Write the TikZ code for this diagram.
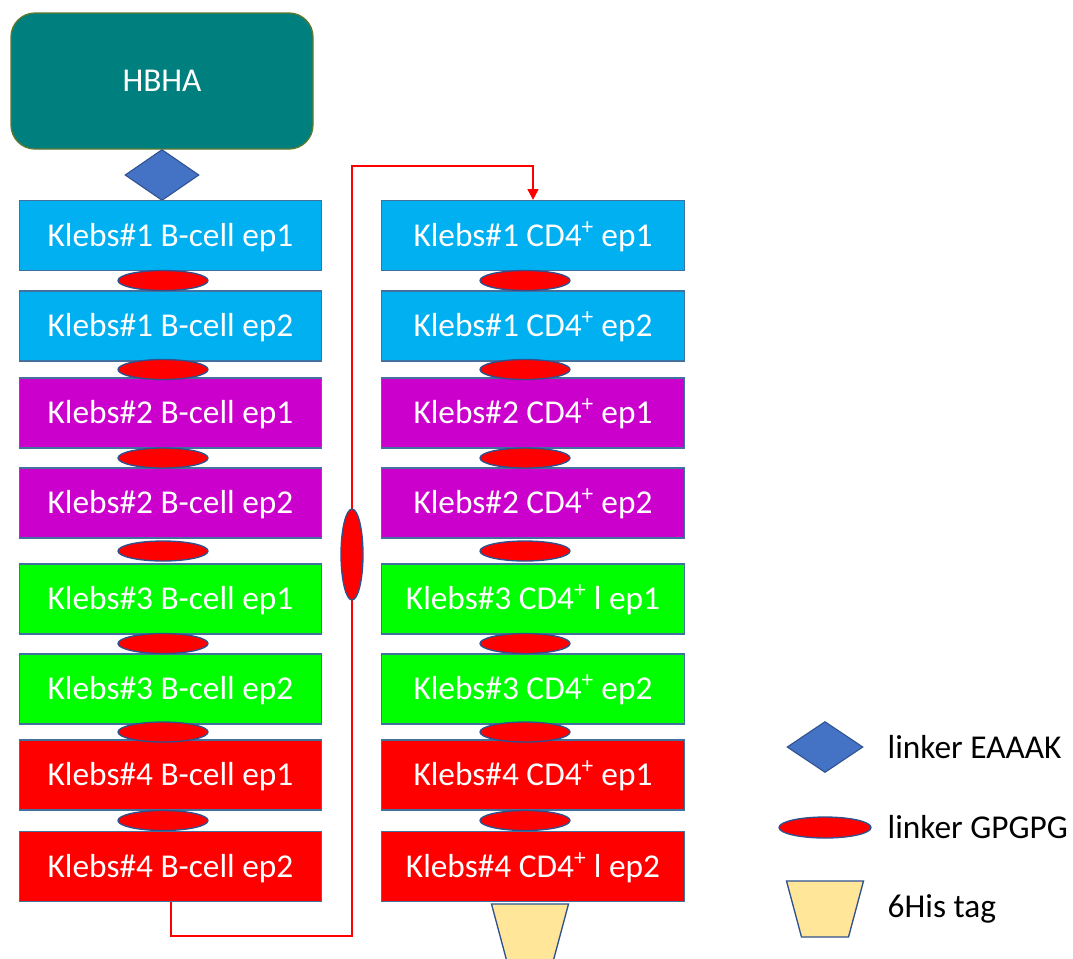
\documentclass[tikz,border=0pt]{standalone}
\usepackage{fontspec}
\setmainfont{Carlito}
\usetikzlibrary{shapes.geometric,arrows.meta}
\definecolor{hbhafill}{HTML}{007F7F}
\definecolor{hbhaline}{HTML}{5F7A2E}
\definecolor{cblue}{HTML}{00B0F0}
\definecolor{cpurple}{HTML}{CC00CC}
\definecolor{cgreen}{HTML}{00FF00}
\definecolor{cred}{HTML}{FF0000}
\definecolor{edge}{HTML}{41719C}
\definecolor{dedge}{HTML}{2F528F}
\definecolor{dfill}{HTML}{4472C4}
\definecolor{tagfill}{HTML}{FFE699}
\tikzset{
  txt/.style={font=\fontsize{25}{30}\selectfont},
  epbox/.style={draw=edge, line width=0.9pt, minimum width=227pt, minimum height=52.5pt, inner sep=0pt, text=white, txt, text depth=0pt, text height=16pt},
  gp/.style={ellipse, draw=dedge, line width=1pt, fill=cred, minimum width=67.5pt, minimum height=15pt, inner sep=0pt},
  ea/.style={diamond, draw=dedge, line width=0.8pt, fill=dfill, inner sep=0pt},
  tagdraw/.style={draw=dedge, line width=1pt, fill=tagfill, line join=miter},
  conn/.style={draw=cred, line width=1.5pt},
  legtxt/.style={anchor=west, text=black, txt}
}
\begin{document}
\begin{tikzpicture}[x=0.75pt,y=-0.75pt]
\useasboundingbox (0,0) rectangle (1073,958);
% HBHA
\node[draw=hbhaline, line width=1pt, fill=hbhafill, rounded corners=18pt, minimum width=226.5pt, minimum height=102pt, text=white, txt] (H) at (162,81) {HBHA};
\node[ea, minimum width=55.5pt, minimum height=38.25pt] (D) at (162,175) {};
% left column
\node[epbox, fill=cblue]   (L1) at (170.5,235.5) {Klebs\#1 B-cell ep1};
\node[epbox, fill=cblue]   (L2) at (170.5,326)   {Klebs\#1 B-cell ep2};
\node[epbox, fill=cpurple] (L3) at (170.5,413)   {Klebs\#2 B-cell ep1};
\node[epbox, fill=cpurple] (L4) at (170.5,503)   {Klebs\#2 B-cell ep2};
\node[epbox, fill=cgreen]  (L5) at (170.5,599)   {Klebs\#3 B-cell ep1};
\node[epbox, fill=cgreen]  (L6) at (170.5,689)   {Klebs\#3 B-cell ep2};
\node[epbox, fill=cred]    (L7) at (170.5,775)   {Klebs\#4 B-cell ep1};
\node[epbox, fill=cred]    (L8) at (170.5,866.5) {Klebs\#4 B-cell ep2};
% right column
\node[epbox, fill=cblue]   (R1) at (533,235.5) {Klebs\#1 CD4\textsuperscript{+} ep1};
\node[epbox, fill=cblue]   (R2) at (533,326)   {Klebs\#1 CD4\textsuperscript{+} ep2};
\node[epbox, fill=cpurple] (R3) at (533,413)   {Klebs\#2 CD4\textsuperscript{+} ep1};
\node[epbox, fill=cpurple] (R4) at (533,503)   {Klebs\#2 CD4\textsuperscript{+} ep2};
\node[epbox, fill=cgreen]  (R5) at (533,599)   {Klebs\#3 CD4\textsuperscript{+} l ep1};
\node[epbox, fill=cgreen]  (R6) at (533,689)   {Klebs\#3 CD4\textsuperscript{+} ep2};
\node[epbox, fill=cred]    (R7) at (533,775)   {Klebs\#4 CD4\textsuperscript{+} ep1};
\node[epbox, fill=cred]    (R8) at (533,866.5) {Klebs\#4 CD4\textsuperscript{+} l ep2};
% GPGPG linkers
\node[gp] (gl1) at (163,280.5) {};
\node[gp] (gl2) at (163,369.5) {};
\node[gp] (gl3) at (163,458) {};
\node[gp] (gl4) at (163,551) {};
\node[gp] (gl5) at (163,643.5) {};
\node[gp] (gl6) at (163,732) {};
\node[gp] (gl7) at (163,820.5) {};
\node[gp] (gr1) at (525,280.5) {};
\node[gp] (gr2) at (525,369.5) {};
\node[gp] (gr3) at (525,458) {};
\node[gp] (gr4) at (525,551) {};
\node[gp] (gr5) at (525,643.5) {};
\node[gp] (gr6) at (525,732) {};
\node[gp] (gr7) at (525,820.5) {};
% connector
\coordinate (c1) at (352,936);
\coordinate (c2) at (352,166);
\draw[conn, -{Triangle[length=8pt,width=8pt]}] (L8.south) |- (c1) -- (c2) -| (R1.north);
\node[gp, minimum width=16.5pt, minimum height=68.25pt] (gv) at (352,554.5) {};
% 6His tag
\coordinate (T) at (530,932);
\draw[tagdraw] (T) ++(-38.5,-28) -- ++(77,0) -- ++(-15,56) -- ++(-47,0) -- cycle;
% legend
\node[ea, minimum width=57pt, minimum height=38.25pt] (LD) at (825,747) {};
\node[legtxt] (LDt) at (883,747) {linker EAAAK};
\node[gp, minimum width=69pt, minimum height=15.75pt] (LE) at (825,827.5) {};
\node[legtxt] (LEt) at (883,827.5) {linker GPGPG};
\coordinate (LT) at (825,909);
\draw[tagdraw] (LT) ++(-38.5,-28) -- ++(77,0) -- ++(-15,56) -- ++(-47,0) -- cycle;
\node[legtxt] (LTt) at (883,909) {6His tag};
\end{tikzpicture}
\end{document}
